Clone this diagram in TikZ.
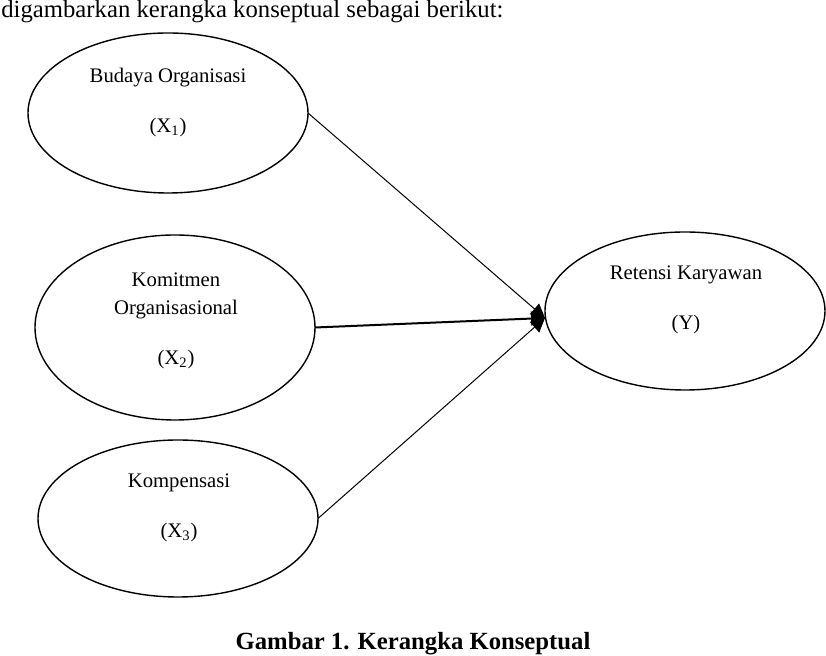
\documentclass[tikz,border=0pt]{standalone}
\usepackage{fontspec}
\setmainfont{Liberation Serif}
\usepackage{tikz}
\usetikzlibrary{
  arrows.meta,
  positioning,
  shapes.geometric
}
\definecolor{InkBlack}{RGB}{0,0,0}
\tikzset{
  varnode/.style={
    ellipse,
    draw=InkBlack,
    line width=0.7pt,
    minimum width=140pt,
    inner sep=0pt,
    outer sep=0pt
  },
  vartext/.style={
    align=center,
    inner sep=0pt,
    font=\fontsize{10.35}{14}\selectfont
  },
  plaintext/.style={
    inner sep=0pt,
    font=\fontsize{12.35}{15}\selectfont
  },
  link/.style={-{Triangle[length=7pt,width=7pt]},line width=0.5pt,draw=InkBlack},
  mainlink/.style={link,line width=1pt}
}

\begin{document}
\begin{tikzpicture}[x=0.5pt,y=-0.5pt]
  \useasboundingbox (0,0) rectangle (826,656);

  \node[plaintext, anchor=base west] (intro) at (1,18) {digambarkan kerangka konseptual sebagai berikut:};

  \node[varnode, minimum height=80pt] (budaya) at (168,113) {};
  \node[varnode, minimum height=92.5pt] (komitmen) at (175,327.5) {};
  \node[varnode, minimum height=78.5pt] (kompensasi) at (178,518.5) {};
  \node[varnode, minimum height=79pt] (retensi) at (685,311) {};

  \node[vartext] (budayatext) at (168,103) {Budaya Organisasi\\[11pt](X\textsubscript{1})};
  \node[vartext] (komitmentext) at (176,321) {Komitmen\\Organisasional\\[11pt](X\textsubscript{2})};
  \node[vartext] (kompensasitext) at (179,507.5) {Kompensasi\\[11pt](X\textsubscript{3})};
  \node[vartext] (retensitext) at (686,300) {Retensi Karyawan\\[11pt](Y)};

  \draw[link] (budaya.east) -- ([yshift=-3.5pt]retensi.west);
  \draw[mainlink] (komitmen.east) -- ([yshift=-3.5pt]retensi.west);
  \draw[link] (kompensasi.east) -- ([yshift=-3.5pt]retensi.west);

  \node[plaintext, anchor=base, font=\fontsize{12.35}{15}\selectfont\bfseries] (caption) at (413,650) {Gambar 1. Kerangka Konseptual};
\end{tikzpicture}
\end{document}
